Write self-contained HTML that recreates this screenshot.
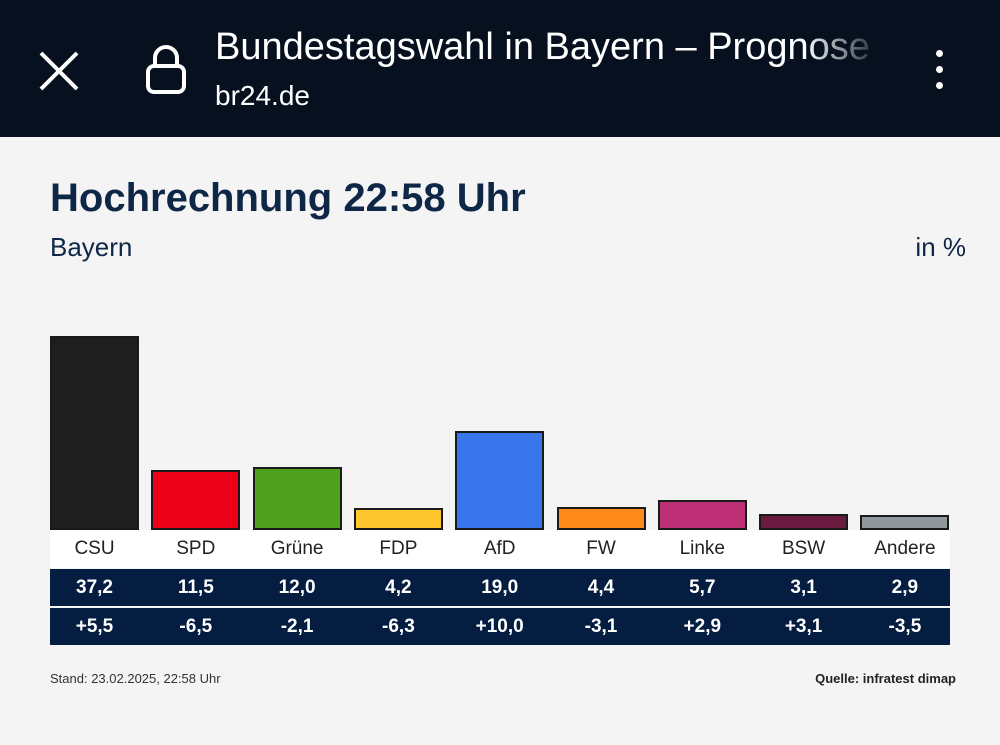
<!DOCTYPE html>
<html><head><meta charset="utf-8"><style>
body{margin:0;width:1000px;height:745px;background:#f4f4f4;font-family:"Liberation Sans",sans-serif;position:relative;overflow:hidden}
.top{position:absolute;left:0;top:0;width:1000px;height:137px;background:#06101f}
.t{position:absolute;color:#fff;white-space:nowrap}
.a{position:absolute;white-space:nowrap}
</style></head><body>
<div class="top">
<svg style="position:absolute;left:38px;top:50px" width="42" height="42"><path d="M3 3L39 39M39 3L3 39" stroke="#fff" stroke-width="4"/></svg>
<svg style="position:absolute;left:145px;top:44px" width="42" height="52"><path d="M10 22V14a11 11 0 0 1 22 0v8" fill="none" stroke="#fff" stroke-width="4"/><rect x="3" y="22" width="36" height="26" rx="6" fill="none" stroke="#fff" stroke-width="4"/></svg>
<div class="t" style="left:215px;top:26px;font-size:38px;width:670px;overflow:hidden;-webkit-mask-image:linear-gradient(90deg,#000 88%,transparent)">Bundestagswahl in Bayern – Prognose</div>
<div class="t" style="left:215px;top:80px;font-size:28px">br24.de</div>
<div style="position:absolute;left:936px;top:50px;width:8px">
<div style="width:7px;height:7px;background:#fff;border-radius:50%;margin-bottom:9px"></div><div style="width:7px;height:7px;background:#fff;border-radius:50%;margin-bottom:9px"></div><div style="width:7px;height:7px;background:#fff;border-radius:50%"></div></div>
</div>
<div class="a" style="left:50px;top:176px;font-size:40px;font-weight:bold;color:#0f2747">Hochrechnung 22:58 Uhr</div>
<div class="a" style="left:50px;top:232px;font-size:26px;color:#0f2747">Bayern</div>
<div class="a" style="right:34px;top:232px;font-size:26px;color:#0f2747">in %</div>
<div style="position:absolute;left:50px;top:530px;width:900px;height:38px;background:#fff"></div>
<div style="position:absolute;left:50px;top:569px;width:900px;height:37px;background:#061d42"></div>
<div style="position:absolute;left:50px;top:608px;width:900px;height:37px;background:#061d42"></div>
<div id="chart"></div>
<div class="a" style="left:50px;top:671px;font-size:13px;color:#333">Stand: 23.02.2025, 22:58 Uhr</div>
<div class="a" style="right:44px;top:671px;font-size:13px;font-weight:bold;color:#222">Quelle: infratest dimap</div>
<script>
const parties=["CSU","SPD","Grüne","FDP","AfD","FW","Linke","BSW","Andere"];
const values=[37.2,11.5,12.0,4.2,19.0,4.4,5.7,3.1,2.9];
const diffs=["+5,5","-6,5","-2,1","-6,3","+10,0","-3,1","+2,9","+3,1","-3,5"];
const colors=["#1e1e1e","#ec0017","#4fa01c","#fec72e","#3a76eb","#fd8a1b","#be3075","#6a1a3e","#8f979b"];
const c=document.getElementById('chart');
const base=530,scale=5.22,x0=50,pitch=101.3,w=89;
const xs=i=>x0+i*pitch;
parties.forEach((p,i)=>{
 const h=values[i]*scale;
 const b=document.createElement('div');
 
 
 b.style.cssText=`position:absolute;left:${xs(i)}px;top:${base-h}px;width:${w}px;height:${h}px;background:${colors[i]};box-sizing:border-box;border:2px solid #1a1a1a`;
 c.appendChild(b);
 const rows=[[p,530,'#222',19,'normal'],[values[i].toFixed(1).replace('.',','),569,'#fff',19,'600'],[diffs[i],608,'#fff',19,'600']];
 rows.forEach((r,k)=>{
  const t=document.createElement('div');
  
  
  t.textContent=r[0];
  t.style.cssText=`position:absolute;left:${xs(i)}px;top:${r[1]}px;width:${w}px;height:38px;line-height:38px;text-align:center;color:${r[2]};font-size:${r[3]}px;font-weight:${r[4]}`;
  c.appendChild(t);
 });
});
</script>
</body></html>
